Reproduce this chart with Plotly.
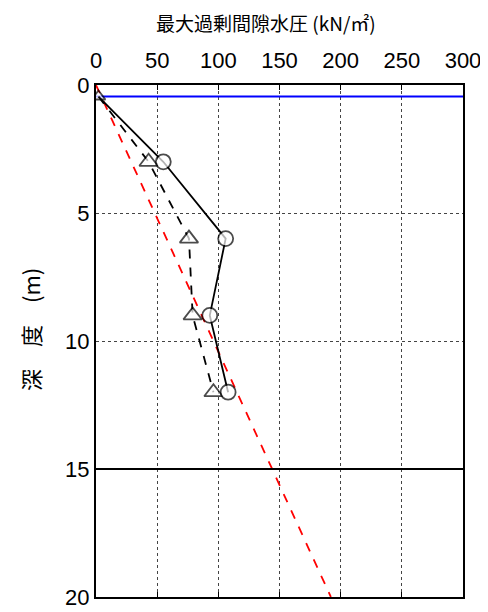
import plotly.graph_objects as go

# data
circ_x = [2, 55, 106, 93, 108]
circ_z = [0.45, 3, 6, 9, 12]
tri_x = [2, 43, 76, 79, 96]
tri_z = [0.45, 3, 6, 9, 12]
red_x = [0, 192]
red_z = [0, 20]
water_level = 0.45
layer_depth = 15
x_ticks = [0, 50, 100, 150, 200, 250, 300]
y_ticks = [0, 5, 10, 15, 20]

fig = go.Figure()
fig.add_trace(go.Scatter(x=red_x, y=red_z, mode="lines",
                         line=dict(color="red", width=1.8, dash="dash"), hoverinfo="skip"))
fig.add_trace(go.Scatter(x=[0, 300], y=[water_level, water_level], mode="lines",
                         line=dict(color="blue", width=2)))
fig.add_trace(go.Scatter(x=[0, 300], y=[layer_depth, layer_depth], mode="lines",
                         line=dict(color="black", width=2)))
fig.add_trace(go.Scatter(x=tri_x, y=tri_z, mode="lines+markers",
                         line=dict(color="black", width=1.8, dash="dash"),
                         marker=dict(symbol="triangle-up", size=[12, 16, 16, 16, 16], color="white",
                                     line=dict(color="black", width=1.8))))
fig.add_trace(go.Scatter(x=circ_x, y=circ_z, mode="lines+markers",
                         line=dict(color="black", width=1.8),
                         marker=dict(symbol="circle", size=[0, 15, 15, 15, 15], color="white",
                                     line=dict(color="black", width=1.8))))

fig.update_layout(
    width=480, height=604,
    margin=dict(l=88, r=25, t=77, b=15),
    paper_bgcolor="white", plot_bgcolor="white",
    showlegend=False,
    font=dict(family="Liberation Sans, Arial, sans-serif", color="black"),
    xaxis=dict(range=[0, 300], side="top", tickvals=x_ticks, ticks="inside", ticklen=5,
               tickcolor="black", showline=True, linecolor="black", linewidth=2, mirror="ticks",
               showgrid=True, gridcolor="#444", griddash="dot", gridwidth=1, automargin=False,
               tickfont=dict(size=22), zeroline=False, ticklabelstandoff=6),
    yaxis=dict(range=[20, 0], tickvals=y_ticks, ticks="", showline=True, linecolor="black",
               linewidth=2, mirror=True, showgrid=True, gridcolor="#444", griddash="dot",
               gridwidth=1, tickfont=dict(size=22), zeroline=False, automargin=False),
    annotations=[
        dict(text="最大過剰間隙水圧 (kN/㎡)", x=(258 - 88) / 367, y=1 + (77 - 14) / 512,
             xref="paper", yref="paper", xanchor="center", yanchor="middle",
             showarrow=False, font=dict(size=19, family="Noto Sans CJK JP")),
        dict(text="深　度　(m)", x=(22 - 88) / 367, y=(589 - 322) / 512, xref="paper", yref="paper",
             textangle=-90, xanchor="center", yanchor="middle",
             showarrow=False, font=dict(size=22, family="Noto Sans CJK JP")),
    ],
)
fig.write_html("out.html")
